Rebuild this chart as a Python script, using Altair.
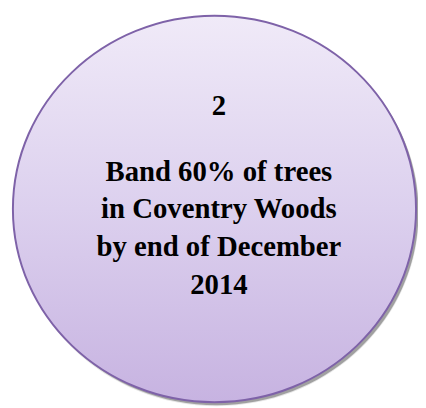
import altair as alt
import pandas as pd

# Content
step_number = ["2"]
description_lines = ["Band 60% of trees", "in Coventry Woods", "by end of December", "2014"]

df = pd.DataFrame({
    "number": step_number,
    "desc": ["\n".join(description_lines)],
})

# ellipse shape in unit space (ry/rx ratio)
ellipse = "M -1 0 A 1 0.9586 0 1 1 1 0 A 1 0.9586 0 1 1 -1 0 Z"
ell_size = 411 ** 2

fill_grad = alt.Gradient(
    gradient="linear",
    stops=[
        alt.GradientStop(color="#F0EAF8", offset=0),
        alt.GradientStop(color="#DCD0EE", offset=0.5),
        alt.GradientStop(color="#C7B3E1", offset=1),
    ],
    x1=0, x2=0, y1=0, y2=1,
)

cx, cy = 210.5, 201

base = alt.Chart(df)

shadow2 = base.mark_point(
    shape=ellipse, size=ell_size + 900, filled=True, color="#000000",
    opacity=0.10, strokeWidth=0,
).encode(x=alt.value(cx + 2.5), y=alt.value(cy + 3.5))

shadow = base.mark_point(
    shape=ellipse, size=ell_size, filled=True, color="#000000",
    opacity=0.30, strokeWidth=0,
).encode(x=alt.value(cx + 2.5), y=alt.value(cy + 3))

circle = base.mark_point(
    shape=ellipse, size=ell_size, filled=True, fill=fill_grad,
    stroke="#7E62A8", strokeWidth=2, opacity=1, fillOpacity=1, strokeOpacity=1,
).encode(x=alt.value(cx), y=alt.value(cy))

number = base.mark_text(
    font="Liberation Serif", fontWeight="bold", fontSize=29.3, color="#000000",
    align="center", baseline="alphabetic",
).encode(x=alt.value(215), y=alt.value(105), text="number:N")

desc = base.mark_text(
    font="Liberation Serif", fontWeight="bold", fontSize=29.3, color="#000000",
    align="center", baseline="alphabetic", lineBreak="\n", lineHeight=38.4,
).encode(x=alt.value(215), y=alt.value(172), text="desc:N")

chart = alt.layer(shadow2, shadow, circle, number, desc).properties(
    width=418, height=400, padding=0,
    autosize=alt.AutoSizeParams(type="none"),
    background="#FFFFFF",
).configure_view(stroke=None)

chart.save("out.html", embed_options={"renderer": "svg", "actions": False})
